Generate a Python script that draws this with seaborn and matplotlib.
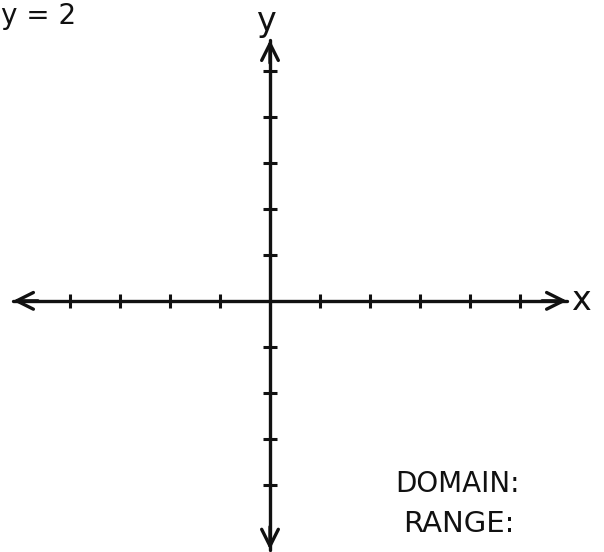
import matplotlib
matplotlib.use("Agg")
import matplotlib.pyplot as plt
import seaborn as sns
import pandas as pd

# ---- data ----
title_text = "y = 2"
x_label = "x"
y_label = "y"
x_ticks = [-4, -3, -2, -1, 1, 2, 3, 4, 5]
y_ticks = [-4, -3, -2, -1, 1, 2, 3, 4, 5]
x_axis_ends = [-5.14, 5.94]
y_axis_ends = [-5.41, 5.67]
domain_text = "DOMAIN:"
range_text = "RANGE:"

sns.set_theme(style="white")
plt.rcParams['font.family'] = ['DejaVu Sans']

fig = plt.figure(figsize=(6.04, 5.52), dpi=100)
ax = fig.add_axes([0, 0, 1, 1])
ax.set_xlim(-5.4, 6.68)
ax.set_ylim(-5.46, 6.54)
ax.axis("off")

ink = "#111111"
lw = 2.4

xaxis_df = pd.DataFrame({"x": x_axis_ends, "y": [0, 0]})
yaxis_df = pd.DataFrame({"x": [0, 0], "y": y_axis_ends})
sns.lineplot(data=xaxis_df, x="x", y="y", ax=ax, color=ink, lw=lw,
             sort=False, estimator=None)
sns.lineplot(data=yaxis_df, x="x", y="y", ax=ax, color=ink, lw=lw,
             sort=False, estimator=None, orient="y")

# arrow heads
arrow_kw = dict(arrowstyle="->", lw=lw, color=ink, mutation_scale=30,
                shrinkA=0, shrinkB=0)
ax.annotate("", xy=(x_axis_ends[0], 0), xytext=(x_axis_ends[0] + 0.5, 0), arrowprops=arrow_kw)
ax.annotate("", xy=(x_axis_ends[1], 0), xytext=(x_axis_ends[1] - 0.5, 0), arrowprops=arrow_kw)
ax.annotate("", xy=(0, y_axis_ends[0]), xytext=(0, y_axis_ends[0] + 0.5), arrowprops=arrow_kw)
ax.annotate("", xy=(0, y_axis_ends[1]), xytext=(0, y_axis_ends[1] - 0.5), arrowprops=arrow_kw)

# tick marks
xt_df = pd.DataFrame({"x": x_ticks, "y": [0] * len(x_ticks)})
yt_df = pd.DataFrame({"x": [0] * len(y_ticks), "y": y_ticks})
sns.scatterplot(data=xt_df, x="x", y="y", ax=ax, marker="|", s=110,
                color=ink, linewidth=2.2)
sns.scatterplot(data=yt_df, x="x", y="y", ax=ax, marker="_", s=100,
                color=ink, linewidth=2.2)

# labels
ax.text(-0.08, 6.07, y_label, fontsize=24, color=ink, ha="center", va="center")
ax.text(6.22, 0, x_label, fontsize=24, color=ink, ha="center", va="center")
ax.text(-5.38, 6.50, title_text, fontsize=20, color=ink, ha="left", va="top")
ax.text(2.5, -4.15, domain_text, fontsize=20, color=ink, ha="left", va="baseline")
ax.text(2.66, -5.02, range_text, fontsize=21, color=ink, ha="left", va="baseline")

fig.savefig("out.png", dpi=100)
